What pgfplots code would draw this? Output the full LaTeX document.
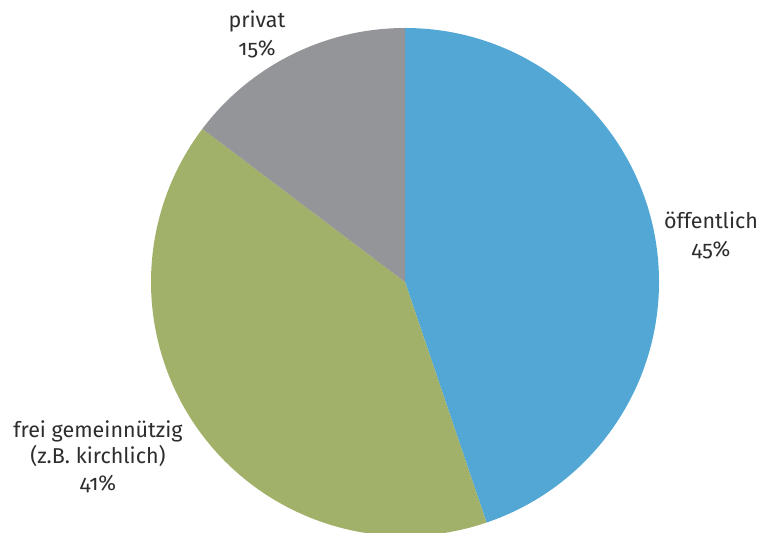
\documentclass[border=0pt]{standalone}
\usepackage{fontspec}
\setmainfont[Numbers=OldStyle]{Fira Sans}
\usepackage{pgfplots}
\pgfplotsset{compat=1.18}
\definecolor{cblue}{RGB}{82,167,212}
\definecolor{cgreen}{RGB}{161,177,105}
\definecolor{cgray}{RGB}{147,149,152}
\definecolor{ctext}{RGB}{45,45,45}
\begin{document}
\begin{tikzpicture}
\begin{axis}[
  hide axis, scale only axis,
  width=767bp, height=533bp,
  xmin=0, xmax=767, ymin=0, ymax=533,
  clip=true,
]
% shares (percent)
\pgfmathsetmacro{\va}{44.8} % oeffentlich
\pgfmathsetmacro{\vb}{40.5} % frei gemeinnuetzig
\pgfmathsetmacro{\vc}{14.7} % privat
\pgfmathsetmacro{\aa}{90}
\pgfmathsetmacro{\ab}{90-3.6*\va}
\pgfmathsetmacro{\ac}{\ab-3.6*\vb}
\pgfmathsetmacro{\ad}{\ac-3.6*\vc}
\fill[cblue] (axis cs:405,251) -- ++(\aa:254bp) arc[start angle=\aa, end angle=\ab, radius=254bp] -- cycle;
\fill[cgreen] (axis cs:405,251) -- ++(\ab:254bp) arc[start angle=\ab, end angle=\ac, radius=254bp] -- cycle;
\fill[cgray] (axis cs:405,251) -- ++(\ac:254bp) arc[start angle=\ac, end angle=\ad, radius=254bp] -- cycle;
\path (axis cs:0,0) rectangle (axis cs:767,533);
\tikzset{lab/.style={anchor=base, text=ctext, font=\fontsize{21.5bp}{24bp}\selectfont, inner sep=0pt}}
\node[lab] at (axis cs:257,505) {privat};
\node[lab] at (axis cs:257,477) {15\%};
\node[lab] at (axis cs:711,304) {öffentlich};
\node[lab] at (axis cs:711,276) {45\%};
\node[lab] at (axis cs:98,95) {frei gemeinnützig};
\node[lab] at (axis cs:98,69) {(z.B. kirchlich)};
\node[lab] at (axis cs:98,42) {41\%};
\end{axis}
\end{tikzpicture}
\end{document}
